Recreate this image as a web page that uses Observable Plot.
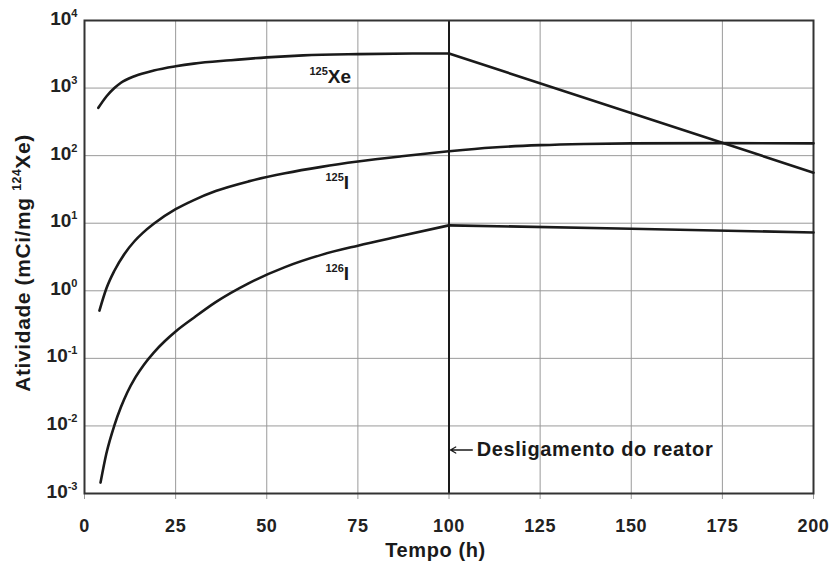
<!DOCTYPE html>
<html>
<head>
<meta charset="utf-8">
<script src="https://cdn.jsdelivr.net/npm/d3@7"></script>
<script src="https://cdn.jsdelivr.net/npm/@observablehq/plot@0.6"></script>
<style>
  html, body { margin: 0; padding: 0; background: #fff; }
  svg { font-family: "Liberation Sans", Arial, Helvetica, sans-serif; font-weight: bold; }
  .wide text { letter-spacing: 0.6px; }
</style>
</head>
<body>
<div id="chart"></div>
<script>
// ---- data ----
const xeTime = [3.8, 6, 8.2, 10, 13.7, 19, 25, 30, 40, 50, 60, 75, 90, 100, 200];
const xeAct  = [510, 750, 1000, 1200, 1500, 1820, 2100, 2300, 2580, 2850, 3050, 3180, 3240, 3250, 56];

const i125Time = [4.1, 6, 8.2, 11, 13.7, 16, 19, 25, 30, 36, 45, 55, 65, 75, 87, 100, 112, 125, 137, 150, 175, 200];
const i125Act  = [0.51, 1.08, 1.98, 3.54, 5.41, 7.19, 9.8, 16.1, 22, 29.9, 41.6, 54.8, 68.2, 81.7, 97.7, 116, 132, 143, 149, 152, 153, 152];

const i126Time = [4.4, 6, 8.2, 10, 11.7, 14, 16.4, 19, 22, 25, 30, 36, 45, 55, 65, 75, 87, 100, 150, 200];
const i126Act  = [0.00145, 0.0039, 0.0102, 0.019, 0.031, 0.0527, 0.082, 0.122, 0.179, 0.25, 0.40, 0.68, 1.29, 2.24, 3.4, 4.65, 6.5, 9.3, 8.3, 7.3];

const isotopes = ["125Xe", "125I", "126I"];
const seriesLabels = ["^{125}Xe", "^{125}I", "^{126}I"];
const xTicks = [0, 25, 50, 75, 100, 125, 150, 175, 200];
const yTicks = [1e-3, 1e-2, 1e-1, 1e0, 1e1, 1e2, 1e3, 1e4];
const shutdownTime = 100;
const shutdownLabel = "Desligamento do reator";
const xLabel = "Tempo (h)";
const yLabel = "Atividade (mCi/mg ^{124}Xe)";

// ---- build table ----
const series = [[xeTime, xeAct], [i125Time, i125Act], [i126Time, i126Act]];
const rows = [];
series.forEach(([T, A], k) => T.forEach((t, i) => rows.push({isotope: isotopes[k], t, a: A[i]})));
const before = rows.filter(d => d.t <= shutdownTime);
const after = rows.filter(d => d.t >= shutdownTime);

const labelPos = [
  {text: seriesLabels[0], t: 61.7, a: 1480},
  {text: seriesLabels[1], t: 66.1, a: 40},
  {text: seriesLabels[2], t: 66.1, a: 1.75}
];

const ink = "#1a1a1a";

const chart = Plot.plot({
  width: 830,
  height: 563,
  marginLeft: 84,
  marginRight: 17,
  marginTop: 20,
  marginBottom: 70,
  style: {background: "#fff", color: ink, fontFamily: "Liberation Sans, Arial, sans-serif", fontWeight: "bold"},
  x: {domain: [0, 200]},
  y: {type: "log", domain: [1e-3, 1e4]},
  marks: [
    Plot.gridX(xTicks, {stroke: "#9a9a9a", strokeOpacity: 1, strokeWidth: 1}),
    Plot.gridY(yTicks, {stroke: "#9a9a9a", strokeOpacity: 1, strokeWidth: 1}),
    Plot.axisX(xTicks, {tickSize: 6, tickPadding: 20, stroke: "#9a9a9a", fill: "#222", fontSize: 18, label: null, className: "wide"}),
    Plot.axisY(yTicks, {tickSize: 0, tickPadding: 7, dy: -2, fill: "#222", fontSize: 19, label: null,
      tickFormat: d => "10^{" + Math.round(Math.log10(d)) + "}"}),
    Plot.ruleX([shutdownTime], {stroke: ink, strokeWidth: 2}),
    Plot.frame({stroke: "#333", strokeWidth: 2}),
    Plot.line(before, {x: "t", y: "a", z: "isotope", curve: "monotone-x", stroke: ink, strokeWidth: 2.6}),
    Plot.line(after, {x: "t", y: "a", z: "isotope", curve: "monotone-x", stroke: ink, strokeWidth: 2.6}),
    Plot.text(labelPos, {x: "t", y: "a", text: "text", textAnchor: "start", fontSize: 19, fill: ink}),
    Plot.arrow([shutdownLabel], {x1: 106.4, y1: 0.0044, x2: 100.4, y2: 0.0044, stroke: ink, strokeWidth: 1.3, headLength: 7}),
    Plot.text([shutdownLabel], {x: 107.6, y: 0.0044, text: d => d, textAnchor: "start", fontSize: 20, fill: ink, className: "wide"}),
    Plot.text([xLabel], {x: 96.3, frameAnchor: "bottom", dy: 57, lineAnchor: "middle", textAnchor: "middle", text: d => d, fontSize: 20, fill: ink, className: "wide"}),
    Plot.text([yLabel], {frameAnchor: "left", rotate: -90, dx: -61, dy: 6, lineAnchor: "middle", textAnchor: "middle", text: d => d, fontSize: 21, fill: ink, className: "wide"})
  ]
});

document.getElementById("chart").appendChild(chart);

// superscripts: turn "^{...}" into raised, smaller tspans
d3.select(chart).selectAll("text").each(function () {
  const s = this.textContent;
  if (!s || !s.includes("^{")) return;
  const fs = parseFloat(getComputedStyle(this).fontSize) || 16;
  const shift = 0.42 * fs;
  const parts = [];
  const re = /\^\{([^}]*)\}/g;
  let last = 0, m;
  while ((m = re.exec(s))) {
    if (m.index > last) parts.push({t: s.slice(last, m.index), sup: false});
    parts.push({t: m[1], sup: true});
    last = re.lastIndex;
  }
  if (last < s.length) parts.push({t: s.slice(last), sup: false});
  this.textContent = "";
  let raised = false;
  const sel = d3.select(this);
  parts.forEach(p => {
    const ts = sel.append("tspan").text(p.t);
    if (p.sup && !raised) { ts.attr("dy", -shift).style("font-size", (0.58 * fs) + "px"); raised = true; }
    else if (!p.sup && raised) { ts.attr("dy", shift); raised = false; }
    else if (p.sup) ts.style("font-size", (0.58 * fs) + "px");
  });
});
</script>
</body>
</html>
